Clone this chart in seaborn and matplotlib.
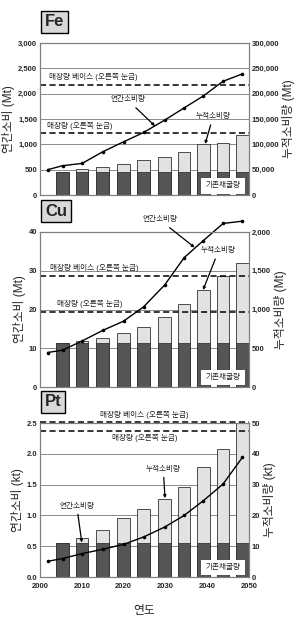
import seaborn as sns
import matplotlib.pyplot as plt
from matplotlib.ticker import FuncFormatter

# 연도 (선 그래프 점 / 막대 위치)
line_years = [2001.8, 2005.4, 2010.1, 2015.0, 2020.0, 2024.8, 2029.8, 2034.5, 2039.1, 2043.8, 2048.4]
bar_years = line_years[1:]

# Fe
fe_annual = [499, 578, 624, 853, 1050, 1234, 1477, 1720, 1956, 2245, 2389]
fe_cum = [46000, 50500, 55800, 60800, 69500, 75000, 84000, 99800, 103000, 117500]
fe_mined = [46000] * 10
fe_base, fe_reserve = 217000, 123000

# Cu
cu_annual = [8.9, 9.5, 11.9, 14.6, 17.0, 20.7, 26.3, 33.4, 37.8, 42.2, 42.8]
cu_cum = [562, 592, 626, 691, 778, 907, 1067, 1248, 1438, 1598]
cu_mined = [562] * 10
cu_base, cu_reserve = 1436, 964

# Pt
pt_annual = [0.254, 0.30, 0.38, 0.45, 0.53, 0.65, 0.81, 1.0, 1.24, 1.51, 1.94]
pt_cum = [11.0, 12.8, 15.2, 19.0, 22.2, 25.4, 29.2, 35.6, 41.6, 50.0]
pt_mined = [11.0] * 10
pt_base, pt_reserve = 50.4, 47.5

sns.set_style("white")
plt.rcParams['font.family'] = ['Liberation Sans', 'Noto Sans CJK KR']

fig = plt.figure(figsize=(3.01, 6.17), dpi=100)

W, H = 301, 617
SPINE = '#7f7f7f'
arrow = dict(arrowstyle='-|>', color='black', lw=0.9, mutation_scale=4, shrinkA=1, shrinkB=0)
small = dict(fontsize=5.5, color='#222222')


def panel(top, bottom, name, annual, cum, mined, lmax, lstep, rmax, rstep,
          lfmt, rfmt, unit, base, reserve, show_x):
    ax = fig.add_axes([40 / W, 1 - bottom / H, 209 / W, (bottom - top) / H])
    ax2 = ax.twinx()

    sns.barplot(x=bar_years, y=cum, native_scale=True, width=0.65, color='#e2e2e2',
                saturation=1, edgecolor='#333333', linewidth=0.6, errorbar=None, ax=ax2)
    sns.barplot(x=bar_years, y=mined, native_scale=True, width=0.65, color='#555555',
                saturation=1, edgecolor='#333333', linewidth=0.6, errorbar=None, ax=ax2)
    sns.lineplot(x=line_years, y=annual, ax=ax, color='black', lw=1.0, marker='o',
                 markersize=2.6, markeredgewidth=0, clip_on=False)

    ax.set_zorder(ax2.get_zorder() + 1)
    ax.patch.set_visible(False)

    ax.set_xlim(2000, 2050)
    ax.set_ylim(0, lmax)
    ax2.set_ylim(0, rmax)
    ax.set_yticks([i * lstep for i in range(int(round(lmax / lstep)) + 1)])
    ax2.set_yticks([i * rstep for i in range(int(round(rmax / rstep)) + 1)])
    ax.yaxis.set_major_formatter(FuncFormatter(lfmt))
    ax2.yaxis.set_major_formatter(FuncFormatter(rfmt))
    ax.set_xticks(range(2000, 2051, 10))

    ax2.yaxis.grid(True, color='#8a8a8a', lw=0.7)
    ax2.set_axisbelow(True)

    for a in (ax, ax2):
        a.tick_params(length=0, pad=2, labelsize=5.5)
        for lab in a.get_xticklabels() + a.get_yticklabels():
            lab.set_fontweight('bold')
        for s in a.spines.values():
            s.set_color(SPINE)
            s.set_linewidth(0.8)
    ax.tick_params(axis='x', pad=4)
    if not show_x:
        ax.tick_params(labelbottom=False)

    ax.set_ylabel(f'연간소비 ({unit})', fontsize=8.5, labelpad=2)
    ax2.set_ylabel(f'누적소비량 ({unit})', fontsize=8.5, rotation=90, labelpad=2)

    dash = (0, (4, 2.2))
    ax2.axhline(base, color='black', ls=dash, lw=1.1, clip_on=False)
    ax2.axhline(reserve, color='black', ls=dash, lw=1.1, clip_on=False)

    ax2.text(2043.8, rmax * 0.06, '기존채굴량', ha='center', va='center', zorder=5,
             bbox=dict(boxstyle='square,pad=0.55', fc='white', ec='none'), **small)

    top_y = 1 - (top - 21) / H
    fig.text(45 / W, top_y, name, fontsize=12, fontweight='bold', ha='left', va='center',
             bbox=dict(boxstyle='square,pad=0.22', fc='#d9d9d9', ec='black', lw=1))
    return ax, ax2


# Fe
ax, ax2 = panel(43, 195, 'Fe', fe_annual, fe_cum, fe_mined, 3000, 500, 300000, 50000,
                lambda v, p: f'{v:,.0f}', lambda v, p: f'{v:,.0f}', 'Mt',
                fe_base, fe_reserve, False)
ax2.text(2002.2, 232000, '매장량 베이스 (오른쪽 눈금)', ha='left', va='center', **small)
ax2.text(2001.6, 136000, '매장량 (오른쪽 눈금)', ha='left', va='center', **small)
ax.annotate('연간소비량', xy=(2027.5, 1362), xytext=(2021, 1875), ha='center', va='center',
            arrowprops=arrow, **small)
ax2.annotate('누적소비량', xy=(2039.5, 100700), xytext=(2041.4, 154500), ha='center',
             va='center', arrowprops=arrow, **small)

# Cu
ax, ax2 = panel(232, 387, 'Cu', cu_annual, cu_cum, cu_mined, 40, 10, 2000, 500,
                lambda v, p: f'{v:.0f}', lambda v, p: f'{v:,.0f}', 'Mt',
                cu_base, cu_reserve, False)
ax2.text(2002.4, 1540, '매장량 베이스 (오른쪽 눈금)', ha='left', va='center', **small)
ax2.text(2004.0, 1075, '매장량 (오른쪽 눈금)', ha='left', va='center', **small)
ax.annotate('연간소비량', xy=(2037, 36.0), xytext=(2028.7, 43.1), ha='center', va='center',
            arrowprops=arrow, annotation_clip=False, **small)
ax2.annotate('누적소비량', xy=(2039.0, 1252), xytext=(2042.7, 1755), ha='center',
             va='center', arrowprops=arrow, **small)

# Pt
ax, ax2 = panel(423, 577, 'Pt', pt_annual, pt_cum, pt_mined, 2.5, 0.5, 50, 10,
                lambda v, p: f'{v:.1f}', lambda v, p: f'{v:.0f}', 'kt',
                pt_base, pt_reserve, True)
ax2.text(2025, 52.6, '매장량 베이스 (오른쪽 눈금)', ha='center', va='center', **small)
ax2.text(2025, 45.0, '매장량 (오른쪽 눈금)', ha='center', va='center', **small)
ax2.annotate('누적소비량', xy=(2029.9, 25.6), xytext=(2029.5, 35.0), ha='center',
             va='center', arrowprops=arrow, **small)
ax2.annotate('연간소비량', xy=(2010.0, 11.2), xytext=(2008.8, 23.0), ha='center',
             va='center', arrowprops=arrow, **small)
ax.set_xlabel('연도', fontsize=8.5, labelpad=11)

fig.savefig('out.png', dpi=100)
